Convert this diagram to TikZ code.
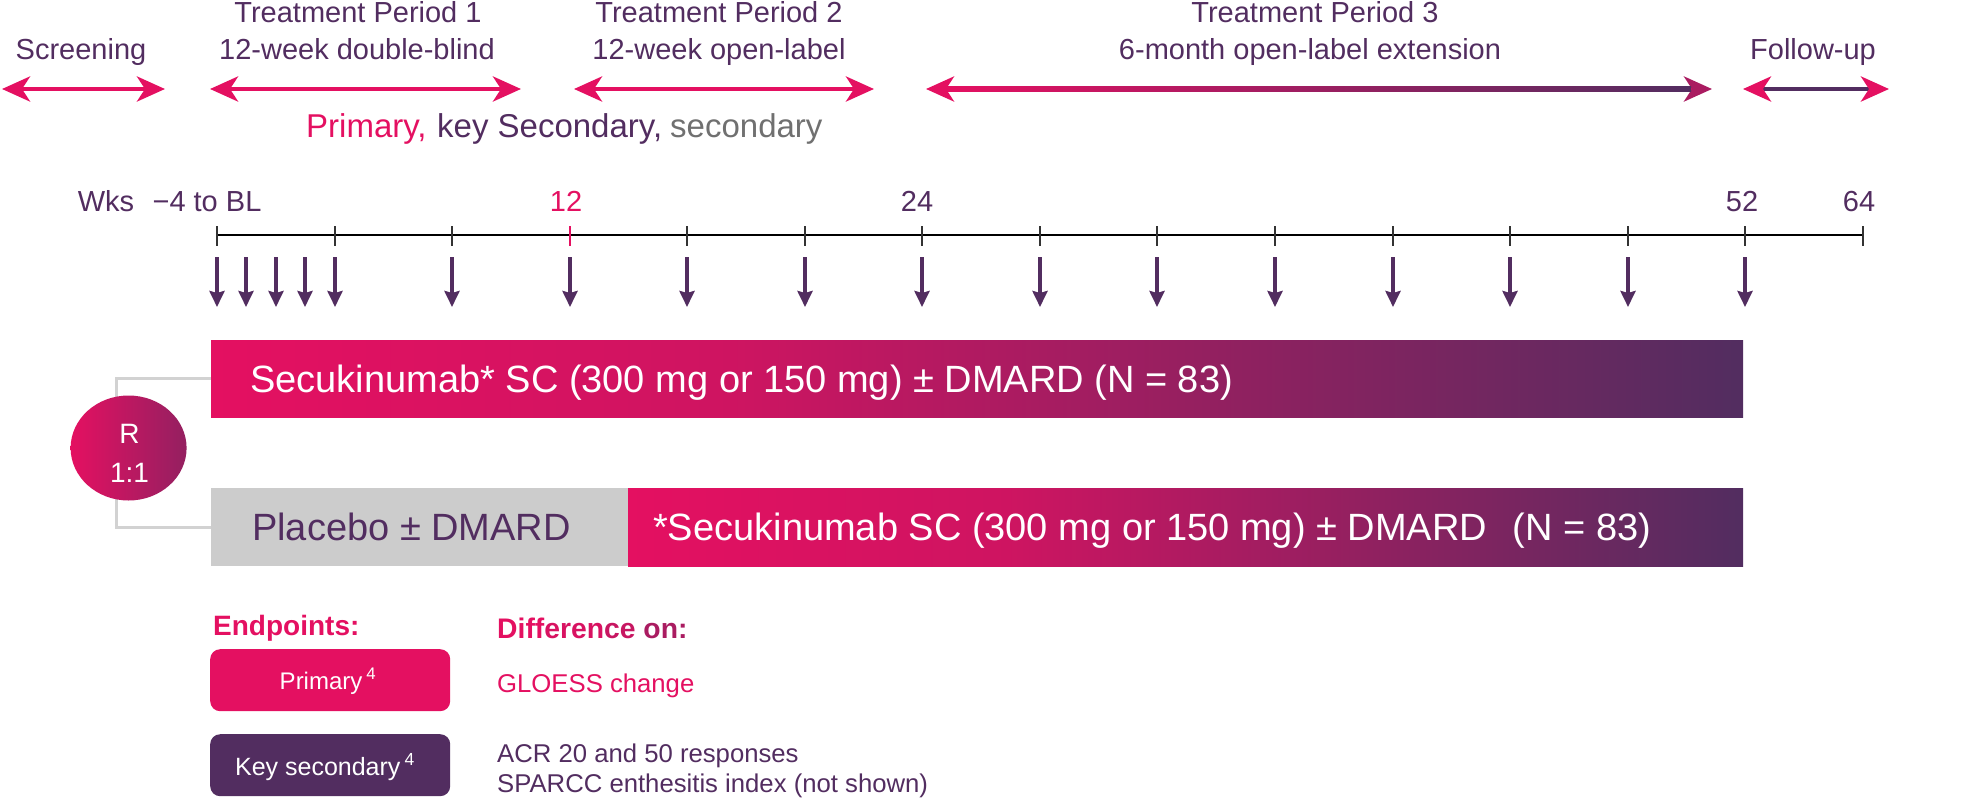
\documentclass[tikz,border=0pt]{standalone}
\usepackage{fontspec}
\setmainfont{Liberation Sans}
\usetikzlibrary{arrows.meta,shapes.geometric}
\definecolor{mypink}{RGB}{228,16,97}
\definecolor{mypurple}{RGB}{82,45,96}
\definecolor{bargray}{RGB}{204,204,204}
\definecolor{txtgray}{RGB}{112,112,112}
\definecolor{brgray}{RGB}{210,210,210}
\colorlet{midpink}{mypink!85!mypurple}
\colorlet{ellright}{mypink!45!mypurple}
\colorlet{tipmix}{mypink!60!mypurple}
\colorlet{dA}{mypink!92!mypurple}
\colorlet{dB}{mypink!80!mypurple}
\colorlet{dC}{mypink!60!mypurple}
\pgfdeclarehorizontalshading{barshade}{100bp}{color(0bp)=(mypink); color(25bp)=(mypink); color(42bp)=(midpink); color(75bp)=(mypurple); color(100bp)=(mypurple)}
\begin{document}
\begin{tikzpicture}[x=1pt,y=-1pt,
  hdr/.style={font=\fontsize{29}{34}\selectfont, text=mypurple, anchor=base, inner sep=0pt},
  spanarrow/.style={line width=4.5pt, mypink, arrows={Stealth[length=28pt,width=25pt,inset=8pt]-Stealth[length=28pt,width=25pt,inset=8pt]}},
  visit/.style={line width=3.5pt, mypurple, -{Stealth[length=16pt,width=15pt,inset=2pt]}},
  tickmark/.style={line width=1.6pt, black!80},
  bartext/.style={font=\fontsize{38}{44}\selectfont, anchor=base west, inner sep=0pt},
  bottxt/.style={font=\fontsize{25.7}{30}\selectfont, anchor=base west, inner sep=0pt},
  boxlbl/.style={font=\fontsize{24}{28}\selectfont, text=white, anchor=base, inner sep=0pt},
  endbox/.style={rounded corners=10pt, minimum width=240pt, minimum height=62pt, anchor=north west, inner sep=0pt},
  bracket/.style={line width=3pt, brgray}
]
\useasboundingbox (0,0) rectangle (1968,798);

% ---- header labels
\node[hdr] (scrT) at (81,59) {Screening};
\node[hdr] (p1a) at (358,22) {Treatment Period 1};
\node[hdr] (p1b) at (357,59) {12-week double-blind};
\node[hdr] (p2a) at (719,22) {Treatment Period 2};
\node[hdr] (p2b) at (719,59) {12-week open-label};
\node[hdr] (p3a) at (1315,22) {Treatment Period 3};
\node[hdr] (p3b) at (1310,59) {6-month open-label extension};
\node[hdr] (fuT) at (1813,59) {Follow-up};

% ---- span arrows
\coordinate (sA) at (2,89);   \coordinate (sB) at (165,89);
\coordinate (aA) at (210,89); \coordinate (aB) at (521,89);
\coordinate (bA) at (574,89); \coordinate (bB) at (874,89);
\coordinate (cA) at (926,89); \coordinate (cB) at (1712,89);
\coordinate (fA) at (1743,89); \coordinate (fB) at (1889,89);
\draw[spanarrow] (sA) -- (sB);
\draw[spanarrow] (aA) -- (aB);
\draw[spanarrow] (bA) -- (bB);
\draw[spanarrow, arrows={Stealth[length=28pt,width=25pt,inset=8pt]-Stealth[length=28pt,width=25pt,inset=8pt,color=tipmix]}] (cA) -- (cB);
\shade[left color=mypink, right color=mypurple] (947,86.75) rectangle (1691,91.25);
\draw[spanarrow, mypurple, arrows={Stealth[length=28pt,width=25pt,inset=8pt,color=mypink]-Stealth[length=28pt,width=25pt,inset=8pt,color=mypink]}] (fA) -- (fB);

% ---- endpoint legend line
\node[font=\fontsize{33}{38}\selectfont, text=mypink, anchor=base west, inner sep=0pt] (lg1) at (306,137) {Primary,};
\node[font=\fontsize{33}{38}\selectfont, text=mypurple, anchor=base west, inner sep=0pt] (lg2) at (437,137) {key Secondary,};
\node[font=\fontsize{33}{38}\selectfont, text=txtgray, anchor=base west, inner sep=0pt] (lg3) at (670,137) {secondary};

% ---- week axis
\node[hdr] (wks) at (106,211) {Wks};
\node[hdr] (bl) at (207,211) {−4 to BL};
\node[hdr, text=mypink] (w12) at (566,211) {12};
\node[hdr] (w24) at (917,211) {24};
\node[hdr] (w52) at (1742,211) {52};
\node[hdr] (w64) at (1859,211) {64};

\foreach \k in {0,...,14} {\pgfmathsetmacro{\tx}{round(217+117.55*\k)}\coordinate (t\k) at (\tx,235);}
\draw[line width=2pt, black] (t0) -- (t14);
\foreach \k in {0,1,2,4,5,6,7,8,9,10,11,12,13,14} {\draw[tickmark] (t\k) ++(0,-9) -- ++(0,20);}
\draw[line width=2pt, mypink] (t3) ++(0,-9) -- ++(0,20);

% ---- visit arrows
\foreach \x in {217,246,276,305} {\draw[visit] (\x,257) -- (\x,307);}
\foreach \k in {1,...,13} {\path (t\k) ++(0,22) coordinate (v\k); \draw[visit] (v\k) -- ++(0,50);}

% ---- treatment bars
\node[shading=barshade, minimum width=1532pt, minimum height=77pt, anchor=north west, inner sep=0pt, outer sep=0pt] (bar1) at (211,340) {};
\node[bartext, text=white] (bar1t) at (250,392) {Secukinumab* SC (300 mg or 150 mg) ± DMARD (N = 83)};
\node[fill=bargray, minimum width=417pt, minimum height=78pt, anchor=north west, inner sep=0pt, outer sep=0pt] (bar2a) at (211,488) {};
\node[shading=barshade, minimum width=1115pt, minimum height=78pt, anchor=north west, inner sep=0pt, outer sep=0pt] (bar2b) at (628,488) {};
\node[bartext, text=mypurple] (bar2at) at (252,540) {Placebo ± DMARD};
\node[bartext, text=white] (bar2bt) at (653,540) {*Secukinumab SC (300 mg or 150 mg) ± DMARD\hspace{26pt}(N = 83)};

% ---- randomisation
\draw[bracket] (bar1.west) -| (116,450) |- (bar2a.west);
\node[ellipse, minimum width=116pt, minimum height=105pt, inner sep=0pt, left color=mypink, right color=ellright] (R) at (128.6,448) {};
\node[font=\fontsize{28}{32}\selectfont, text=white, anchor=base, inner sep=0pt] (Rt) at (129.5,443) {R};
\node[font=\fontsize{28}{32}\selectfont, text=white, anchor=base, inner sep=0pt] (Rr) at (129.5,482) {1:1};

% ---- endpoints
\node[font=\fontsize{28}{32}\selectfont\bfseries, text=mypink, anchor=base west, inner sep=0pt] (ep) at (213,635) {Endpoints:};
\node[font=\fontsize{28.3}{32}\selectfont\bfseries, anchor=base west, inner sep=0pt] (diff) at (497,638) {\textcolor{mypink}{Diff}\textcolor{dA}{eren}\textcolor{dB}{ce }\textcolor{dC}{on:}};
\node[endbox, fill=mypink] (pbox) at (210,649) {};
\node[boxlbl] (pboxt) at (328,689) {Primary\,\textsuperscript{4}};
\node[endbox, fill=mypurple] (kbox) at (210,734) {};
\node[boxlbl, font=\fontsize{25}{29}\selectfont] (kboxt) at (325,775) {Key secondary\,\textsuperscript{4}};
\node[bottxt, text=mypink] (gl) at (497,692) {GLOESS change};
\node[bottxt, text=mypurple] (acr) at (497,762) {ACR 20 and 50 responses};
\node[bottxt, text=mypurple] (sp) at (497,792) {SPARCC enthesitis index (not shown)};
\end{tikzpicture}
\end{document}
